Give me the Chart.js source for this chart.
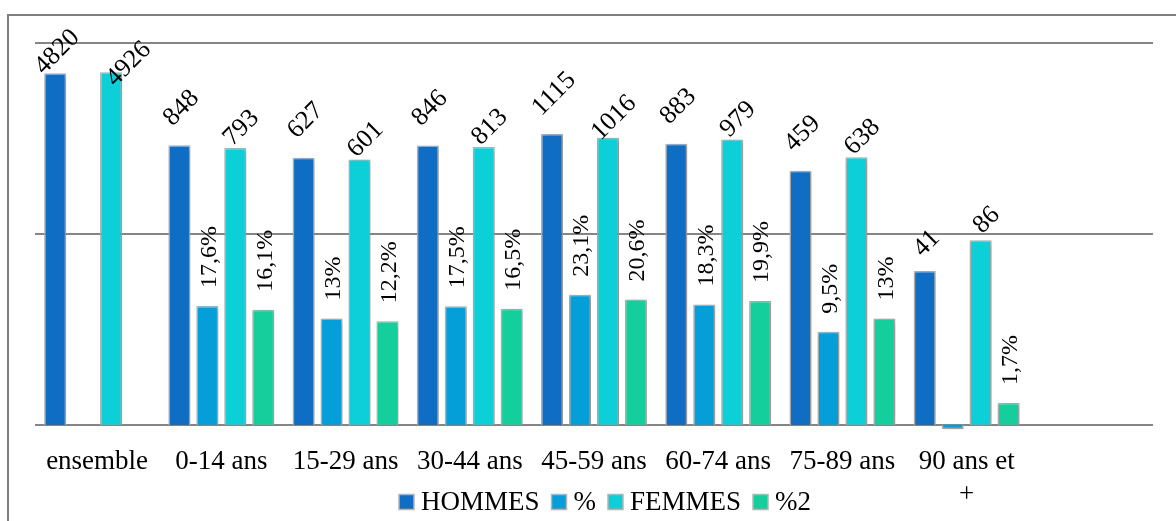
<!DOCTYPE html>
<html>
<head>
<meta charset="utf-8">
<script src="https://cdn.jsdelivr.net/npm/chart.js@4/dist/chart.umd.min.js"></script>
<style>
  html, body { margin: 0; padding: 0; background: #ffffff; }
  #wrap { width: 1176px; height: 521px; position: relative; }
</style>
</head>
<body>
<div id="wrap"><canvas id="c" width="1176" height="521"></canvas></div>
<script>
// Population par tranche d'âge
const categories = ['ensemble', '0-14 ans', '15-29 ans', '30-44 ans', '45-59 ans', '60-74 ans', '75-89 ans', ['90 ans et', '+'], ''];
const hommes = [4820, 848, 627, 846, 1115, 883, 459, 41, null];
const pctHommes = [null, 17.6, 13, 17.5, 23.1, 18.3, 9.5, 0.9, null];
const femmes = [4926, 793, 601, 813, 1016, 979, 638, 86, null];
const pctFemmes = [null, 16.1, 12.2, 16.5, 20.6, 19.9, 13, 1.7, null];
const gridValues = [1, 100, 10000];

const SERIF = "'Liberation Serif', 'DejaVu Serif', serif";

function fmtPct(v) {
  return String(v).replace('.', ',') + '%';
}

// Frame around the chart object
const framePlugin = {
  id: 'frame',
  beforeDraw(chart) {
    const ctx = chart.ctx;
    ctx.save();
    ctx.strokeStyle = '#7f7f7f';
    ctx.lineWidth = 2;
    ctx.strokeRect(8, 15, 1400, 800);
    ctx.restore();
  }
};

// Soft shadow under bars + value labels above them
const barLabels = {
  id: 'barLabels',
  beforeDatasetsDraw(chart) {
    const ctx = chart.ctx;
    ctx.save();
    ctx.shadowColor = 'rgba(0,0,0,0.28)';
    ctx.shadowBlur = 5;
    ctx.shadowOffsetX = 1;
    ctx.shadowOffsetY = 1;
  },
  afterDatasetsDraw(chart) {
    const ctx = chart.ctx;
    ctx.restore();
    ctx.save();
    ctx.fillStyle = '#000000';
    chart.data.datasets.forEach((ds, di) => {
      const meta = chart.getDatasetMeta(di);
      const isPct = ds.kind === 'pct';
      meta.data.forEach((el, i) => {
        const v = ds.data[i];
        if (v === null || v === undefined || v < 1) return;
        ctx.save();
        if (isPct) {
          ctx.font = '24px ' + SERIF;
          ctx.translate(el.x + 2, el.y - 18);
          ctx.rotate(-Math.PI / 2);
          ctx.textAlign = 'left';
          ctx.textBaseline = 'middle';
          ctx.fillText(fmtPct(v), 0, 0);
        } else {
          ctx.font = '26px ' + SERIF;
          const txt = String(v);
          const L = ctx.measureText(txt).width;
          let cx, cy;
          if (ds.label === 'HOMMES') {
            cx = el.x + 2;
            cy = Math.max(el.y - Math.min(40, 8 + 0.75 * L), 52);
          } else {
            cx = el.x + 6;
            cy = el.y - 20;
            if (cy < 64) { cx += 64 - cy; cy = 64; }
          }
          ctx.translate(cx, cy);
          ctx.rotate(-Math.PI / 4);
          ctx.textAlign = 'center';
          ctx.textBaseline = 'middle';
          ctx.fillText(txt, 0, 0);
        }
        ctx.restore();
      });
    });
    ctx.restore();
  }
};

// Legend row under the category labels
const legendRow = {
  id: 'legendRow',
  afterDraw(chart) {
    const ctx = chart.ctx;
    const font = '27px ' + SERIF;
    const box = 15, gapText = 7, gapItem = 12;
    ctx.save();
    ctx.font = font;
    const items = chart.data.datasets.map(ds => ({
      label: ds.label, fill: ds.backgroundColor, stroke: ds.borderColor,
      w: ctx.measureText(ds.label).width
    }));
    const total = items.reduce((s, it) => s + box + gapText + it.w, 0) + gapItem * (items.length - 1);
    let x = 605 - total / 2;
    const cy = 502;
    ctx.textBaseline = 'middle';
    ctx.textAlign = 'left';
    items.forEach(it => {
      ctx.fillStyle = it.fill;
      ctx.fillRect(x, cy - box / 2, box, box);
      ctx.strokeStyle = it.stroke;
      ctx.lineWidth = 1.5;
      ctx.strokeRect(x, cy - box / 2, box, box);
      ctx.fillStyle = '#000000';
      ctx.fillText(it.label, x + box + gapText, cy + 1);
      x += box + gapText + it.w + gapItem;
    });
    ctx.restore();
  }
};

const border = '#b5b5b5';

new Chart(document.getElementById('c'), {
  type: 'bar',
  data: {
    labels: categories,
    datasets: [
      { label: 'HOMMES', kind: 'val', data: hommes, backgroundColor: '#106dc4', borderColor: border, borderWidth: 1.5, clip: false },
      { label: '%', kind: 'pct', data: pctHommes, backgroundColor: '#049fd9', borderColor: border, borderWidth: 1.5, clip: false },
      { label: 'FEMMES', kind: 'val', data: femmes, backgroundColor: '#0dcfd8', borderColor: border, borderWidth: 1.5, clip: false },
      { label: '%2', kind: 'pct', data: pctFemmes, backgroundColor: '#14cf9b', borderColor: border, borderWidth: 1.5, clip: false }
    ]
  },
  options: {
    responsive: false,
    animation: false,
    devicePixelRatio: 1,
    layout: { padding: { left: 35, right: 23, top: 43, bottom: 0 } },
    categoryPercentage: 0.9,
    barPercentage: 0.79,
    scales: {
      x: {
        grid: { display: false, drawTicks: false },
        border: { display: false },
        ticks: {
          color: '#000000',
          font: { family: SERIF, size: 27, lineHeight: 1.2 },
          padding: 21,
          maxRotation: 0,
          autoSkip: false
        },
        afterFit(scale) { scale.height = 96; }
      },
      y: {
        type: 'logarithmic',
        min: 1,
        max: 10000,
        afterBuildTicks(scale) { scale.ticks = gridValues.map(v => ({ value: v })); },
        ticks: { display: false },
        grid: { color: '#858585', lineWidth: 2, drawTicks: false },
        border: { display: false }
      }
    },
    plugins: {
      legend: { display: false },
      tooltip: { enabled: false }
    }
  },
  plugins: [framePlugin, barLabels, legendRow]
});
</script>
</body>
</html>
